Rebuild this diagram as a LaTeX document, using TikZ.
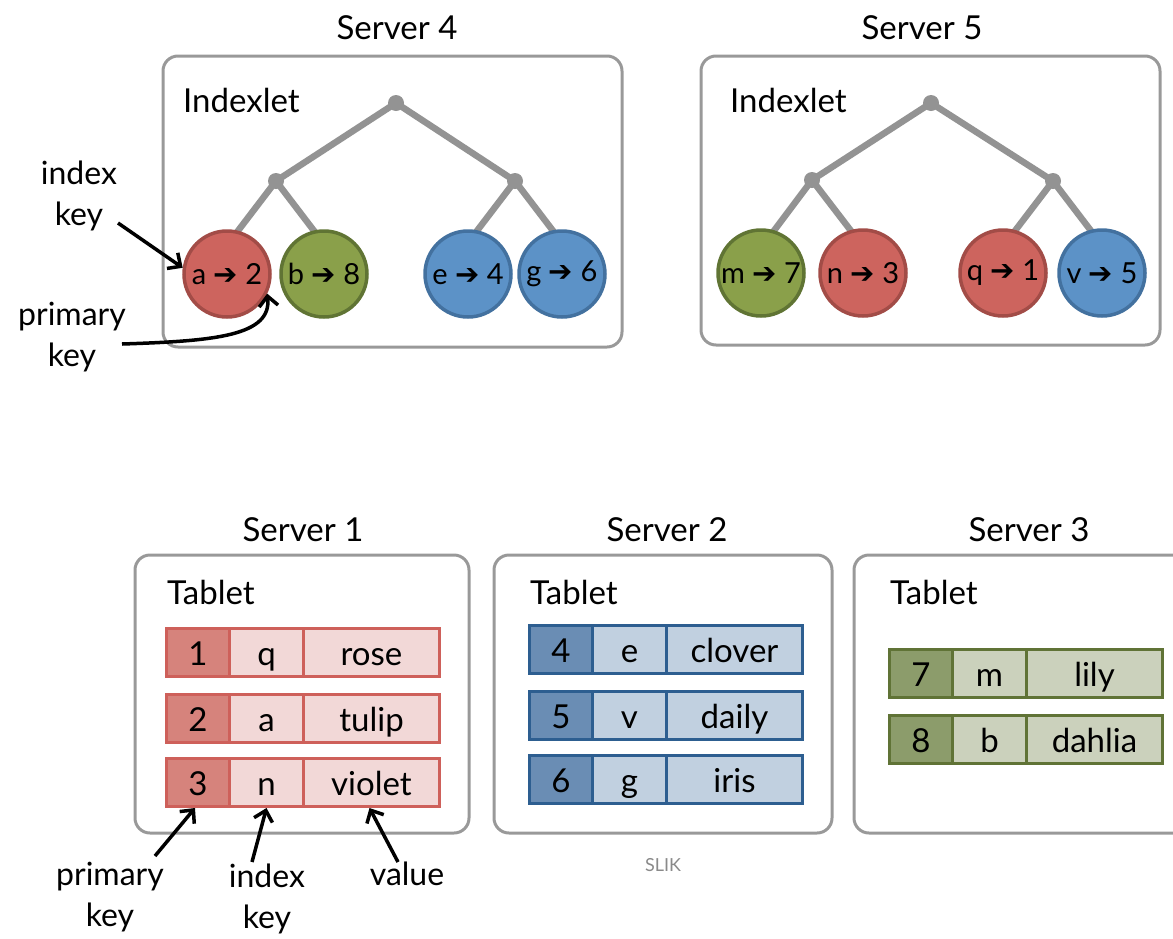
\documentclass[tikz,border=0pt]{standalone}
\usepackage{fontspec}
\setmainfont{Lato}
\newfontfamily\symf{DejaVu Sans}
\usetikzlibrary{arrows.meta}

\definecolor{boxgray}{HTML}{999999}
\definecolor{treegray}{HTML}{939393}
\definecolor{redfill}{HTML}{CD645E}
\definecolor{redline}{HTML}{A24C47}
\definecolor{greenfill}{HTML}{8AA04A}
\definecolor{greenline}{HTML}{607434}
\definecolor{bluefill}{HTML}{5C92C7}
\definecolor{blueline}{HTML}{43719F}
% table colours: key cell, other cells, border
\definecolor{rkey}{HTML}{D6837C}
\definecolor{rcell}{HTML}{F2D8D7}
\definecolor{rline}{HTML}{CE605A}
\definecolor{bkey}{HTML}{6A8DB4}
\definecolor{bcell}{HTML}{C1D0E0}
\definecolor{bline}{HTML}{2D5E90}
\definecolor{gkey}{HTML}{8C9C6B}
\definecolor{gcell}{HTML}{CBD1BC}
\definecolor{gline}{HTML}{607336}
\definecolor{sliktext}{HTML}{8A8A8A}

\tikzset{
  serverbox/.style={draw=boxgray, line width=3pt, rounded corners=15pt},
  title/.style={font=\fontsize{33}{38}\selectfont, inner sep=0pt},
  boxlabel/.style={font=\fontsize{33}{38}\selectfont, anchor=west, inner sep=0pt},
  note/.style={font=\fontsize{32}{41}\selectfont, align=center, inner sep=0pt},
  treeedge/.style={draw=treegray, line width=6.5pt},
  treedot/.style={circle, fill=treegray, minimum size=16pt, inner sep=0pt},
  leaf/.style={circle, minimum size=86pt, inner sep=0pt, line width=3.5pt,
    font=\fontsize{29}{32}\selectfont},
  redleaf/.style={leaf, fill=redfill, draw=redline},
  greenleaf/.style={leaf, fill=greenfill, draw=greenline},
  blueleaf/.style={leaf, fill=bluefill, draw=blueline},
  cell/.style={rectangle, anchor=north west, minimum height=48pt, inner sep=0pt,
    text height=25pt, text depth=0pt, line width=3pt,
    font=\fontsize{33}{38}\selectfont},
  keyarrow/.style={draw=black, line width=3.5pt,
    -{Straight Barb[length=10pt,width=19pt,line width=3.5pt]}},
}

% one table row: colour prefix, row name, left x, top y, key, index key, value
\newcommand{\tabrow}[7]{%
  \node[cell, minimum width=63pt, fill=#1key, draw=#1line] (#2k) at (#3,#4) {#5};
  \node[cell, minimum width=74pt, fill=#1cell, draw=#1line] (#2i) at ({#3+63},#4) {#6};
  \node[cell, minimum width=136pt, fill=#1cell, draw=#1line] (#2v) at ({#3+137},#4) {#7};
}
\newcommand{\arr}{{\symf ➔}}

\begin{document}
\begin{tikzpicture}[x=1pt, y=-1pt]
\useasboundingbox (0,0) rectangle (1173,938);
\clip (0,0) rectangle (1173,938);

% ---------------- index servers ----------------
\node[title] (t4) at (397,28) {Server 4};
\node[title] (t5) at (922,28) {Server 5};
\draw[serverbox] (163,56) rectangle (622,347);
\draw[serverbox] (701,56) rectangle (1160,345);
\node[boxlabel] (ix4) at (183,100) {Indexlet};
\node[boxlabel] (ix5) at (730,100) {Indexlet};

% tree of server 4
\node[treedot] (r4) at (396,103) {};
\node[treedot] (l4) at (276,181) {};
\node[treedot] (m4) at (515,181) {};
\draw[treeedge] (r4.center) -- (l4.center) (r4.center) -- (m4.center);
\draw[treeedge] (l4.center) -- (231,240) (l4.center) -- (321,240);
\draw[treeedge] (m4.center) -- (470,240) (m4.center) -- (560,240);
\node[redleaf]   (la) at (227,274) {a \arr{} 2};
\node[greenleaf] (lb) at (324,274) {b \arr{} 8};
\node[blueleaf]  (le) at (468,274) {e \arr{} 4};
\node[blueleaf]  (lg) at (562,274) {g \arr{} 6};

% tree of server 5
\node[treedot] (r5) at (931,103) {};
\node[treedot] (l5) at (812,180) {};
\node[treedot] (m5) at (1053,181) {};
\draw[treeedge] (r5.center) -- (l5.center) (r5.center) -- (m5.center);
\draw[treeedge] (l5.center) -- (767,240) (l5.center) -- (858,240);
\draw[treeedge] (m5.center) -- (1008,240) (m5.center) -- (1098,240);
\node[greenleaf] (lm) at (761,273) {m \arr{} 7};
\node[redleaf]   (ln) at (863,273) {n \arr{} 3};
\node[redleaf]   (lq) at (1003,273) {q \arr{} 1};
\node[blueleaf]  (lv) at (1102,273) {v \arr{} 5};

% notes on the indexlet entry
\node[note] (nik) at (79,196) {index\\key};
\node[note] (npk) at (72,337) {primary\\key};
\coordinate (nikfrom) at (118,223);
\coordinate (npkfrom) at (122,344);
\draw[keyarrow] (nikfrom) -- (la.172);
\draw[keyarrow] (npkfrom) .. controls (215,341) and (272,336) .. (la.-26);

% ---------------- tablet servers ----------------
\node[title] (t1) at (303,530) {Server 1};
\node[title] (t2) at (667,530) {Server 2};
\node[title] (t3) at (1029,530) {Server 3};
\draw[serverbox] (135,555) rectangle (469,833);
\draw[serverbox] (494,555) rectangle (832,833);
\draw[serverbox] (854,555) rectangle (1188,833);
\node[boxlabel] (tb1) at (167,592) {Tablet};
\node[boxlabel] (tb2) at (530,592) {Tablet};
\node[boxlabel] (tb3) at (890,592) {Tablet};

\tabrow{r}{a1}{165}{627}{1}{q}{rose}
\tabrow{r}{a2}{165}{693}{2}{a}{tulip}
\tabrow{r}{a3}{165}{757}{3}{n}{violet}

\tabrow{b}{b1}{528}{624}{4}{e}{clover}
\tabrow{b}{b2}{528}{690}{5}{v}{daily}
\tabrow{b}{b3}{528}{754}{6}{g}{iris}

\tabrow{g}{c1}{888}{648}{7}{m}{lily}
\tabrow{g}{c2}{888}{714}{8}{b}{dahlia}

% notes on the tablet row
\node[note] (bpk) at (110,897) {primary\\key};
\node[note] (bik) at (267,899) {index\\key};
\node[note, anchor=north] (bval) at (407,862) {value};
\coordinate (bpkfrom) at (155,856);
\coordinate (bikfrom) at (252,862);
\coordinate (bvalfrom) at (398,862);
\draw[keyarrow] (bpkfrom) -- ([xshift=-3pt]a3k.south);
\draw[keyarrow] (bikfrom) -- (a3i.south);
\draw[keyarrow] (bvalfrom) -- ([xshift=-2pt]a3v.south);

\node[font=\fontsize{18}{22}\selectfont, text=sliktext] (slik) at (663,865) {SLIK};
\end{tikzpicture}
\end{document}
